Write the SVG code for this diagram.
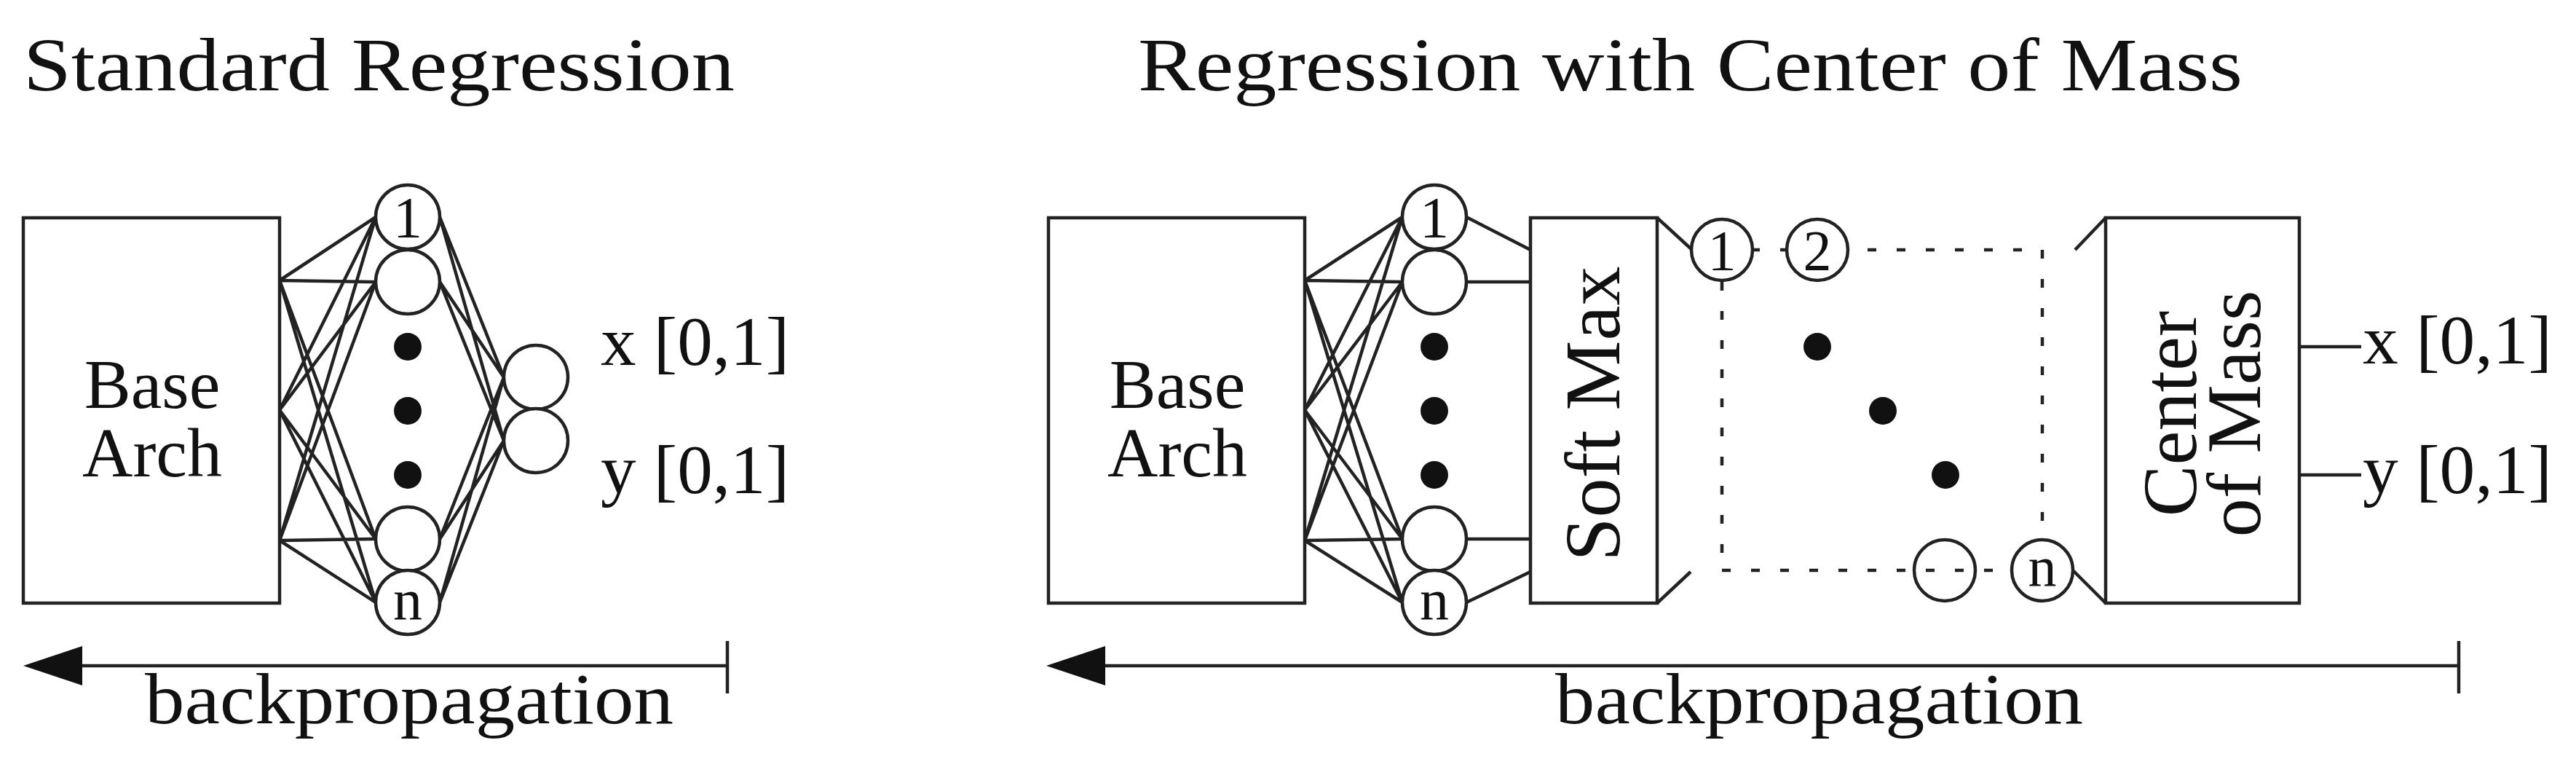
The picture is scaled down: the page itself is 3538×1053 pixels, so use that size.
<svg xmlns="http://www.w3.org/2000/svg" width="3538" height="1053" viewBox="0 0 3538 1053">
<style>
.s{fill:none;stroke:#222;stroke-width:4.5}
.c{fill:#fff;stroke:#222;stroke-width:4.5}
.d{fill:#111}
.t{font-family:"Liberation Serif",serif;fill:#111}
.dash{fill:none;stroke:#222;stroke-width:4.5;stroke-dasharray:12 28}
</style>
<rect width="3538" height="1053" fill="#fff"/>
<text class="t" x="32" y="124" font-size="104" textLength="977" lengthAdjust="spacingAndGlyphs">Standard Regression</text>
<text class="t" x="1563" y="124" font-size="104" textLength="1517" lengthAdjust="spacingAndGlyphs">Regression with Center of Mass</text>
<g id="connectors">
<g class="s">
<path d="M384 385L516 298M384 385L516 387M384 385L516 740M384 385L516 827M384 563L516 298M384 563L516 387M384 563L516 740M384 563L516 827M384 742L516 298M384 742L516 387M384 742L516 740M384 742L516 827"/>
<path d="M604 298L692 518M604 298L692 605M604 387L692 518M604 387L692 605M604 740L692 518M604 740L692 605M604 827L692 518M604 827L692 605"/>
<path d="M1792 385L1926 298M1792 385L1926 387M1792 385L1926 740M1792 385L1926 827M1792 563L1926 298M1792 563L1926 387M1792 563L1926 740M1792 563L1926 827M1792 742L1926 298M1792 742L1926 387M1792 742L1926 740M1792 742L1926 827"/>
<path d="M2014 298L2102 343M2014 387L2102 387M2014 740L2102 740M2014 827L2102 785"/>
<path d="M2276 299L2324 343M2276 828L2322 785M2892 299L2850 343M2847 783L2892 828"/>
<path d="M3158 476H3243M3158 652H3243"/>
<path d="M90 914H999M999 880V952M1480 914H3377M3377 880V952"/>
</g>
<path class="dash" d="M2365 343H2805M2365 783H2805"/>
<path class="dash" d="M2365 387V783M2805 343V740"/>
<polygon points="32,914 113,887 113,941" fill="#111"/>
<polygon points="1437,914 1518,887 1518,941" fill="#111"/>
</g>
<g id="base-left"><rect class="s" x="32" y="299" width="352" height="529"/>
<text class="t" font-size="96" text-anchor="middle" x="209" y="560">Base</text>
<text class="t" font-size="96" text-anchor="middle" x="209" y="654">Arch</text></g>
<g id="hidden-left">
<circle class="c" cx="560" cy="298" r="44"/><text class="t" x="560" y="326" font-size="80" text-anchor="middle">1</text>
<circle class="c" cx="560" cy="387" r="44"/>
<circle class="d" cx="560" cy="476" r="19"/><circle class="d" cx="560" cy="564" r="19"/><circle class="d" cx="560" cy="652" r="19"/>
<circle class="c" cx="560" cy="740" r="44"/>
<circle class="c" cx="560" cy="827" r="44"/><text class="t" x="560" y="850" font-size="80" text-anchor="middle">n</text>
</g>
<g id="out-left">
<circle class="c" cx="736" cy="518" r="44"/><circle class="c" cx="736" cy="605" r="44"/>
<text class="t" x="825" y="501" font-size="96" textLength="259" lengthAdjust="spacingAndGlyphs">x [0,1]</text>
<text class="t" x="825" y="677" font-size="96" textLength="259" lengthAdjust="spacingAndGlyphs">y [0,1]</text>
</g>
<g id="base-right"><rect class="s" x="1440" y="299" width="352" height="529"/>
<text class="t" font-size="96" text-anchor="middle" x="1617" y="560">Base</text>
<text class="t" font-size="96" text-anchor="middle" x="1617" y="654">Arch</text></g>
<g id="hidden-right">
<circle class="c" cx="1970" cy="298" r="44"/><text class="t" x="1970" y="326" font-size="80" text-anchor="middle">1</text>
<circle class="c" cx="1970" cy="387" r="44"/>
<circle class="d" cx="1970" cy="476" r="19"/><circle class="d" cx="1970" cy="564" r="19"/><circle class="d" cx="1970" cy="652" r="19"/>
<circle class="c" cx="1970" cy="740" r="44"/>
<circle class="c" cx="1970" cy="827" r="44"/><text class="t" x="1970" y="850" font-size="80" text-anchor="middle">n</text>
</g>
<g id="softmax"><rect class="s" x="2102" y="299" width="174" height="529"/>
<text class="t" font-size="108" text-anchor="middle" transform="translate(2224,568) rotate(-90)">Soft Max</text></g>
<g id="grid">
<circle class="c" cx="2365" cy="343" r="42"/><text class="t" x="2365" y="370" font-size="78" text-anchor="middle">1</text>
<circle class="c" cx="2496" cy="343" r="42"/><text class="t" x="2496" y="370" font-size="78" text-anchor="middle">2</text>
<circle class="d" cx="2496" cy="476" r="19"/><circle class="d" cx="2586" cy="564" r="19"/><circle class="d" cx="2672" cy="652" r="19"/>
<circle class="c" cx="2671" cy="783" r="42" fill-opacity="0"/>
<circle class="c" cx="2805" cy="783" r="42"/><text class="t" x="2805" y="805" font-size="78" text-anchor="middle">n</text>
</g>
<g id="com"><rect class="s" x="2892" y="299" width="266" height="529"/>
<text class="t" font-size="106" text-anchor="middle" transform="translate(3016,568) rotate(-90)">Center</text>
<text class="t" font-size="106" text-anchor="middle" transform="translate(3104,568) rotate(-90)">of Mass</text>
<text class="t" x="3245" y="499" font-size="96" textLength="260" lengthAdjust="spacingAndGlyphs">x [0,1]</text>
<text class="t" x="3245" y="677" font-size="96" textLength="260" lengthAdjust="spacingAndGlyphs">y [0,1]</text>
</g>
<text class="t" x="199" y="993" font-size="100" textLength="726" lengthAdjust="spacingAndGlyphs">backpropagation</text>
<text class="t" x="2136" y="993" font-size="100" textLength="725" lengthAdjust="spacingAndGlyphs">backpropagation</text>
</svg>
